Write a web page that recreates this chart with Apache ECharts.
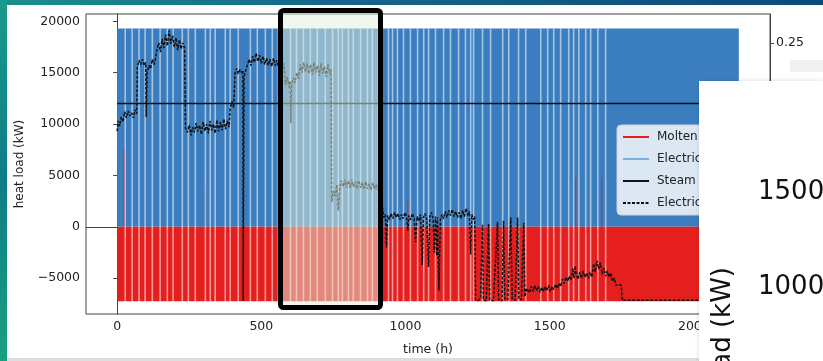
<!DOCTYPE html>
<html>
<head>
<meta charset="utf-8">
<script src="https://cdn.jsdelivr.net/npm/echarts@6/dist/echarts.min.js"></script>
<style>
  html, body { margin: 0; padding: 0; background: #fff; }
  #chart { width: 823px; height: 361px; }
</style>
</head>
<body>
<div id="chart"></div>
<script>
// ticks
const timeTicks = [0, 500, 1000, 1500, 2000]
const loadTicks = [-5000, 0, 5000, 10000, 15000, 20000]
const rightTicks = [0.25]

// charge / discharge blocks (kW) over the simulated hours
const blockSpan = [0, 2156]
const heaterLevel = 19300
const saltLevel = -7250
// hours where the blocks show a white gap
const gapHours = [28, 52, 76, 97, 122, 149, 174, 194, 226, 247, 271, 306, 323, 340, 375, 392, 420, 462, 486, 514, 538, 559,
  601, 622, 646, 670, 694, 722, 747, 767, 781, 802, 819, 844, 868, 885, 906,
  941, 955, 972, 993, 1017, 1042, 1063, 1080, 1104, 1132, 1156, 1184, 1208, 1226, 1236, 1267, 1295,
  1337, 1358, 1392, 1417, 1469, 1493, 1514, 1538, 1566, 1583, 1601, 1625, 1642, 1667, 1694]
// thin molten-salt spikes rising into the heater block [hour, kW]
const saltSpikes = [[24, 7500], [306, 4000], [1008, 2500], [1590, 4800], [1680, 4800]]

// steam demand
const steamHours = [0, 2160]
const steamKW = [12000, 12000]

// electric load [hour, kW]
const electricLoad = [
  [0, 9300], [4, 10300], [9, 9800], [14, 10700], [20, 10200], [26, 11200], [32, 10600], [38, 11300], [44, 10800], [50, 11100], [56, 10600], [62, 11400], [68, 11000],
  [70, 15600], [76, 16200], [82, 15800], [88, 16300], [94, 15700], [99, 16000], [101, 10700], [104, 15000], [110, 15700], [116, 15400], [122, 16300], [128, 15800], [134, 16500],
  [138, 17300], [144, 17900], [150, 17000], [156, 18300], [162, 17400], [168, 18700], [174, 17600], [180, 19100], [186, 17800], [192, 18600], [198, 17500], [204, 18400], [210, 17200], [216, 18200], [222, 17300], [228, 17900], [234, 17400],
  [237, 9600], [244, 9200], [250, 9900], [256, 8900], [262, 9700], [268, 9200], [274, 10100], [280, 9300], [286, 9900], [292, 9000], [298, 10200], [304, 9300], [310, 10000], [316, 9100], [322, 10300], [328, 9400], [334, 10000], [340, 9100], [346, 10400], [352, 9300], [358, 10200], [364, 9400], [370, 10500], [376, 9500], [382, 10300], [388, 9700],
  [392, 11500], [398, 12200], [404, 11600], [409, 15000], [414, 15400], [420, 14900], [426, 15300], [432, 15000], [436, 15200], [437, -7200], [439, -7200], [440, 14600], [446, 15200],
  [452, 15800], [458, 16300], [464, 15700], [470, 16600], [476, 16000], [482, 16900], [488, 16100], [494, 16700], [500, 15900], [506, 16600], [512, 15800], [518, 16400], [524, 15700], [530, 16300], [536, 15600], [542, 16400], [548, 15700], [554, 16200], [560, 15500], [566, 16100], [572, 15400], [578, 15900],
  [584, 13800], [590, 14600], [596, 13600], [600, 14200], [602, 10100], [605, 13900], [611, 14500], [617, 14000], [623, 15000], [629, 14400], [635, 15800], [641, 15000], [647, 16000], [653, 15100], [659, 15900], [665, 14900], [671, 15800], [677, 14800], [683, 16000], [689, 15000], [695, 15700], [701, 14700], [707, 15900], [713, 14900], [719, 15600], [725, 14600], [731, 15800], [737, 14900], [742, 15300],
  [744, 2400], [750, 3500], [756, 3000], [762, 4100], [767, 1600], [772, 3900], [778, 4500], [784, 3900], [790, 4600], [796, 3800], [802, 4500], [808, 3800], [814, 4600], [820, 3900], [826, 4400], [832, 3700], [838, 4500], [844, 3800], [850, 4300], [856, 3700], [862, 4400], [868, 3700], [874, 4200], [880, 3600], [886, 4300], [892, 3700], [898, 4100], [904, 3600], [910, 4000],
  [925, 900], [930, 1200], [934, -2000], [938, 1100], [944, 700], [950, 1300], [956, 800], [962, 1400], [968, 900], [974, 1300], [980, 700], [986, 1200], [992, 800], [998, 1400], [1004, 900], [1008, -400], [1012, 1100], [1018, 700], [1024, 1300], [1030, 800], [1035, -1500], [1040, 1000], [1046, 600], [1052, 1200], [1058, -3700], [1062, 900], [1068, 1300], [1074, 700], [1080, -3900], [1084, 1000], [1090, 1400], [1096, 800], [1100, -2500], [1104, 1000],
  [1108, -2800], [1111, 900], [1116, -6200], [1121, 700], [1126, 1200], [1132, 800], [1138, 1500], [1144, 900], [1150, 1600], [1156, 1100], [1162, 1700], [1168, 1000], [1174, 1500], [1180, 900], [1186, 1400], [1192, 800], [1198, 1600], [1204, 1000], [1210, 1800], [1216, 1100], [1222, 1500], [1226, -2700], [1230, 1200], [1236, 700], [1240, 1000],
  [1243, -7100], [1250, -7200], [1260, -7000], [1267, 200], [1270, -7100], [1280, -7200], [1288, 300], [1292, -7100], [1305, -7200], [1319, 500], [1323, -7100], [1335, -7200], [1340, 600], [1344, -7000], [1355, -7100], [1365, 900], [1370, -7000], [1380, -7150], [1389, 900], [1393, -7000], [1402, -7100], [1410, 400], [1414, -6800], [1420, -6000],
  [1424, -5900], [1430, -6400], [1436, -5800], [1442, -6300], [1448, -5700], [1454, -6200], [1460, -5800], [1466, -6400], [1472, -5900], [1478, -6300], [1484, -5800], [1490, -6200], [1496, -5700], [1502, -6300], [1508, -5800], [1514, -6100], [1520, -5600], [1526, -6000], [1532, -5500], [1538, -5800],
  [1544, -5100], [1550, -5500], [1556, -4900], [1562, -5300], [1568, -4800], [1574, -5200], [1580, -4000], [1584, -5000], [1588, -3800], [1592, -4600], [1598, -5100], [1604, -4400], [1610, -5000], [1616, -4300], [1622, -4900], [1628, -4500], [1634, -5000], [1640, -4400], [1646, -4900],
  [1652, -3600], [1658, -4400], [1664, -3300], [1670, -4100], [1676, -3500], [1682, -4600], [1688, -4000], [1694, -4800], [1700, -4300], [1706, -4900], [1712, -4500], [1718, -5300], [1724, -5000], [1730, -5700], [1740, -5600], [1748, -5700],
  [1752, -7150], [1800, -7150], [2160, -7150]
]

const FONT = 'DejaVu Sans'
const BLUE = '#3b7ec0', RED = '#e51f1e'

const chart = echarts.init(document.getElementById('chart'))

function blockItem(params, api) {
  const a = api.coord([api.value(0), api.value(2)])
  const b = api.coord([api.value(1), api.value(3)])
  return { type: 'rect', shape: { x: a[0], y: Math.min(a[1], b[1]), width: b[0] - a[0], height: Math.abs(b[1] - a[1]) },
    style: { fill: api.visual('color') } }
}
function gapItem(params, api) {
  const t = api.coord([api.value(0), heaterLevel])
  const b = api.coord([api.value(0), saltLevel])
  const w = api.size([5.5, 0])[0]
  return { type: 'rect', shape: { x: t[0] - w / 2, y: t[1], width: w, height: b[1] - t[1] },
    style: { fill: 'rgba(255,255,255,0.55)' } }
}
function spikeItem(params, api) {
  const t = api.coord([api.value(0), api.value(1)])
  const b = api.coord([api.value(0), 0])
  return { type: 'rect', shape: { x: t[0] - 0.6, y: t[1], width: 1.2, height: b[1] - t[1] },
    style: { fill: 'rgba(229,31,30,0.8)' } }
}

chart.setOption({
  backgroundColor: '#fff',
  animation: false,
  grid: { left: 86, right: 53, top: 14, bottom: 44, show: true, borderColor: '#444', borderWidth: 1 },
  legend: {
    left: 617, top: 125, orient: 'vertical', itemWidth: 26, itemHeight: 10, itemGap: 10,
    padding: [6, 40, 6, 5], backgroundColor: 'rgba(255,255,255,0.82)', borderColor: '#cfcfcf', borderWidth: 1, borderRadius: 4,
    itemStyle: { opacity: 0 },
    textStyle: { fontFamily: FONT, fontSize: 12, color: '#222', padding: [0, 0, 0, 3] },
    data: ['Molten salt storage', 'Electric heater', 'Steam demand', 'Electricity load']
  },
  xAxis: {
    type: 'value', min: -108, max: 2264,
    name: 'time (h)', nameLocation: 'middle', nameGap: 29,
    nameTextStyle: { fontFamily: FONT, fontSize: 12.5, color: '#222' },
    axisLine: { lineStyle: { color: '#444' } },
    axisTick: { length: 4, customValues: timeTicks, lineStyle: { color: '#444' } },
    axisLabel: { customValues: timeTicks, fontFamily: FONT, fontSize: 12.5, color: '#222', margin: 6,
      formatter: v => String(v) },
    splitLine: { show: false }
  },
  yAxis: [{
    type: 'value', min: -8480, max: 20710,
    name: 'heat load (kW)', nameLocation: 'middle', nameGap: 60,
    nameTextStyle: { fontFamily: FONT, fontSize: 12, color: '#222' },
    axisLine: { show: true, lineStyle: { color: '#444' } },
    axisTick: { show: true, length: 4, customValues: loadTicks, lineStyle: { color: '#444' } },
    axisLabel: { customValues: loadTicks, fontFamily: FONT, fontSize: 12.5, color: '#222', margin: 6,
      formatter: v => String(v).replace('-', '\u2212') },
    splitLine: { show: false }
  }, {
    type: 'value', position: 'right', min: 0, max: 0.2765,
    axisLine: { show: true, lineStyle: { color: '#444' } },
    axisTick: { show: true, length: 4, customValues: rightTicks, lineStyle: { color: '#444' } },
    axisLabel: { customValues: rightTicks, fontFamily: FONT, fontSize: 12.5, color: '#222', margin: 6,
      formatter: v => v.toFixed(2) },
    splitLine: { show: false }
  }],
  series: [
    { name: '_heater', type: 'custom', renderItem: blockItem, itemStyle: { color: BLUE }, z: 1,
      encode: { x: [0, 1], y: [2, 3] }, data: [[blockSpan[0], blockSpan[1], heaterLevel, 0]] },
    { name: '_salt', type: 'custom', renderItem: blockItem, itemStyle: { color: RED }, z: 1,
      encode: { x: [0, 1], y: [2, 3] }, data: [[blockSpan[0], blockSpan[1], 0, saltLevel]] },
    { name: '_spikes', type: 'custom', renderItem: spikeItem, z: 1, encode: { x: 0, y: 1 }, data: saltSpikes },
    { name: '_gaps', type: 'custom', renderItem: gapItem, z: 1, encode: { x: 0 }, data: gapHours.map(h => [h]) },
    { name: 'Molten salt storage', type: 'line', data: [], symbol: 'none', lineStyle: { color: RED, width: 1.5 }, itemStyle: { color: RED } },
    { name: 'Electric heater', type: 'line', data: [], symbol: 'none', lineStyle: { color: '#7fb0dc', width: 1.5 }, itemStyle: { color: '#7fb0dc' } },
    { name: 'Steam demand', type: 'line', symbol: 'none', z: 3, silent: true,
      lineStyle: { color: '#111', width: 1.3 }, itemStyle: { color: '#111' },
      data: steamHours.map((h, i) => [h, steamKW[i]]) },
    { name: 'Electricity load', type: 'line', symbol: 'none', z: 4, silent: true,
      lineStyle: { color: '#111', width: 1.5, type: [3, 1.5] }, itemStyle: { color: '#111' },
      data: electricLoad }
  ],
  graphic: [
    // screenshot surroundings
    { type: 'rect', z: 90, shape: { x: 0, y: 0, width: 823, height: 5 },
      style: { fill: new echarts.graphic.LinearGradient(0, 0, 1, 0, [{ offset: 0, color: '#1a8f8a' }, { offset: 0.4, color: '#15668a' }, { offset: 1, color: '#0c4a78' }]) } },
    { type: 'rect', z: 90, shape: { x: 0, y: 0, width: 7, height: 361 },
      style: { fill: new echarts.graphic.LinearGradient(0, 0, 0, 1, [{ offset: 0, color: '#1b9a8c' }, { offset: 0.5, color: '#0f7c86' }, { offset: 1, color: '#1aa07e' }]) } },
    { type: 'rect', z: 90, shape: { x: 7, y: 358, width: 816, height: 3 }, style: { fill: '#dedede' } },
    { type: 'rect', z: 90, shape: { x: 790, y: 60, width: 33, height: 12 }, style: { fill: '#f0f0f0' } },
    // highlighted window
    { type: 'rect', z: 95, shape: { x: 280.5, y: 10.5, width: 100, height: 297, r: 3 },
      style: { fill: 'rgba(228,240,218,0.5)', stroke: '#000', lineWidth: 5 } },
    // overlapping slide panel
    { type: 'rect', z: 100, shape: { x: 699, y: 81, width: 124, height: 280 },
      style: { fill: '#fff', shadowBlur: 4, shadowColor: 'rgba(0,0,0,0.15)' } },
    { type: 'text', z: 101, x: 758, y: 192,
      style: { text: '15000', fontFamily: FONT, fontSize: 26, fill: '#111', verticalAlign: 'middle' } },
    { type: 'text', z: 101, x: 758, y: 287,
      style: { text: '10000', fontFamily: FONT, fontSize: 26, fill: '#111', verticalAlign: 'middle' } },
    { type: 'text', z: 101, x: 723, y: 267, rotation: Math.PI / 2,
      style: { text: 'heat load (kW)', fontFamily: FONT, fontSize: 26, fill: '#111', align: 'right', verticalAlign: 'middle' } }
  ]
})
</script>
</body>
</html>
